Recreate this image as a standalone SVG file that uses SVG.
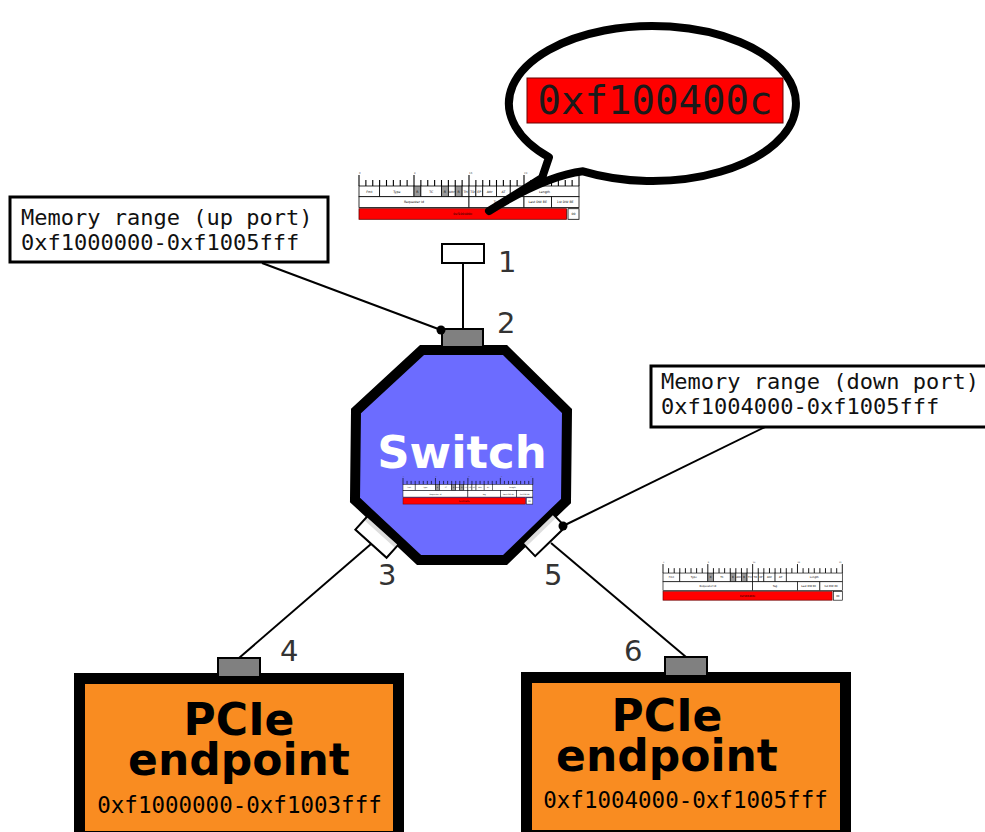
<svg xmlns="http://www.w3.org/2000/svg" xmlns:xlink="http://www.w3.org/1999/xlink" width="985" height="832" viewBox="0 0 985 832">
  <style>
    .mono { font-family: "DejaVu Sans Mono", "Liberation Mono", monospace; }
    .sans { font-family: "DejaVu Sans", "Liberation Sans", sans-serif; }
    .num { font-family: "DejaVu Sans", "Liberation Sans", sans-serif; font-size: 29px; fill: #333; }
    .note { fill: #fff; stroke: #000; stroke-width: 3; }
    .notetext { font-family: "DejaVu Sans Mono", "Liberation Mono", monospace; font-size: 22px; fill: #111; }
    .port { fill: #808080; stroke: #000; stroke-width: 2; }
    .wport { fill: #fff; stroke: #000; stroke-width: 2; }
    .wire { stroke: #000; stroke-width: 2; fill: none; }
    .ep { fill: #f98c21; stroke: #000; stroke-width: 11; }
    .eptitle { font-family: "DejaVu Sans", "Liberation Sans", sans-serif; font-weight: bold; font-size: 44px; fill: #000; text-anchor: middle; }
    .eprange { font-family: "DejaVu Sans Mono", "Liberation Mono", monospace; font-size: 22.5px; fill: #000; text-anchor: middle; }
    .cell { fill: #fff; stroke: #000; stroke-width: 0.8; }
    .rsv { fill: #999; stroke: #000; stroke-width: 0.8; }
    .ft { font-family: "DejaVu Sans", "Liberation Sans", sans-serif; font-size: 3.2px; fill: #000; text-anchor: middle; }
    .bit { font-family: "DejaVu Sans", "Liberation Sans", sans-serif; font-size: 2.6px; fill: #555; }
  </style>
  <defs>
    <marker id="dot" viewBox="-5 -5 10 10" markerWidth="10" markerHeight="10" markerUnits="userSpaceOnUse" refX="0" refY="0">
      <circle r="4.5" fill="#000"/>
    </marker>
    <!-- TLP memory request header, 32 bits wide (6.875 px per bit) -->
    <g id="tlp">
      <path d="M0,5V16 M6.875,10V16 M13.75,10V16 M20.625,10V16 M27.5,10V16 M34.375,10V16 M41.25,10V16 M48.125,10V16 M55,5V16 M61.875,10V16 M68.75,10V16 M75.625,10V16 M82.5,10V16 M89.375,10V16 M96.25,10V16 M103.125,10V16 M110,5V16 M116.875,10V16 M123.75,10V16 M130.625,10V16 M137.5,10V16 M144.375,10V16 M151.25,10V16 M158.125,10V16 M165,5V16 M171.875,10V16 M178.75,10V16 M185.625,10V16 M192.5,10V16 M199.375,10V16 M206.25,10V16 M213.125,10V16 M220,5V16" stroke="#000" stroke-width="1.1" fill="none"/>
      <text class="bit" x="0" y="3.5">0</text>
      <text class="bit" x="55" y="3.5">8</text>
      <text class="bit" x="110" y="3.5">16</text>
      <text class="bit" x="165" y="3.5">24</text>
      <text class="bit" x="216" y="3.5">31</text>
      <!-- row 1 -->
      <rect class="cell" x="0" y="16" width="20.625" height="10.7"/>
      <rect class="cell" x="20.625" y="16" width="34.375" height="10.7"/>
      <rect class="rsv" x="55" y="16" width="6.875" height="10.7"/>
      <rect class="cell" x="61.875" y="16" width="20.625" height="10.7"/>
      <rect class="rsv" x="82.5" y="16" width="6.875" height="10.7"/>
      <rect class="cell" x="89.375" y="16" width="6.875" height="10.7"/>
      <rect class="rsv" x="96.25" y="16" width="6.875" height="10.7"/>
      <rect class="cell" x="103.125" y="16" width="6.875" height="10.7"/>
      <rect class="cell" x="110" y="16" width="6.875" height="10.7"/>
      <rect class="cell" x="116.875" y="16" width="6.875" height="10.7"/>
      <rect class="cell" x="123.75" y="16" width="13.75" height="10.7"/>
      <rect class="cell" x="137.5" y="16" width="13.75" height="10.7"/>
      <rect class="cell" x="151.25" y="16" width="68.75" height="10.7"/>
      <text class="ft" x="10.3" y="22.5">Fmt</text>
      <text class="ft" x="37.8" y="22.5">Type</text>
      <text class="ft" x="58.4" y="22.5">R</text>
      <text class="ft" x="72.2" y="22.5">TC</text>
      <text class="ft" x="85.9" y="22.5">R</text>
      <text class="ft" x="92.8" y="22.5" font-size="2.2">Attr</text>
      <text class="ft" x="99.7" y="22.5">R</text>
      <text class="ft" x="106.6" y="22.5">TH</text>
      <text class="ft" x="113.4" y="22.5">TD</text>
      <text class="ft" x="120.3" y="22.5">EP</text>
      <text class="ft" x="130.6" y="22.5">Attr</text>
      <text class="ft" x="144.4" y="22.5">AT</text>
      <text class="ft" x="185.6" y="22.5">Length</text>
      <!-- row 2 -->
      <rect class="cell" x="0" y="26.7" width="110" height="10.7"/>
      <rect class="cell" x="110" y="26.7" width="55" height="10.7"/>
      <rect class="cell" x="165" y="26.7" width="27.5" height="10.7"/>
      <rect class="cell" x="192.5" y="26.7" width="27.5" height="10.7"/>
      <text class="ft" x="55" y="33.2">Requester Id</text>
      <text class="ft" x="137.5" y="33.2">Tag</text>
      <text class="ft" x="178.75" y="33.2" font-size="2.6">Last DW BE</text>
      <text class="ft" x="206.25" y="33.2" font-size="2.6">1st DW BE</text>
      <!-- row 3 -->
      <rect x="0" y="38.7" width="207.5" height="10.6" fill="#ff0000" stroke="#600" stroke-width="0.8"/>
      <rect class="cell" x="209" y="38.7" width="11" height="10.6"/>
      <text class="ft" x="103.75" y="45.1" fill="#400">0xf100400c</text>
      <text class="ft" x="214.5" y="45.1">00</text>
    </g>
  </defs>

  <!-- packet on the upstream link -->
  <use xlink:href="#tlp" href="#tlp" transform="translate(359,170)"/>

  <!-- address call-out -->
  <g id="bubble">
    <path d="M549,157.2 A143.5,77.5 0 1 1 583,171.3 Q545,176 489,211 L542,178 Z" fill="#fff" stroke="#000" stroke-width="8" stroke-linejoin="round"/>
    <rect x="527" y="78" width="256" height="45" fill="#ff0000" stroke="#6b0000" stroke-width="1"/>
    <text class="mono" x="655" y="114" font-size="39" fill="#1a1a1a" text-anchor="middle">0xf100400c</text>
  </g>

  <!-- address range notes -->
  <g id="note-up">
    <rect class="note" x="10" y="197" width="318" height="65"/>
    <text class="notetext" x="21" y="225">Memory range (up port)</text>
    <text class="notetext" x="21" y="250">0xf1000000-0xf1005fff</text>
  </g>
  <g id="note-down">
    <rect class="note" x="651" y="366" width="345" height="61"/>
    <text class="notetext" x="661" y="389">Memory range (down port)</text>
    <text class="notetext" x="661" y="414">0xf1004000-0xf1005fff</text>
  </g>

  <!-- switch -->
  <g id="switch">
    <path d="M422,350 L505,350 L567,411 L566,501 L505,560 L419,560 L355,500 L356,411 Z" fill="#6c6cff" stroke="#000" stroke-width="10"/>
    <text class="sans" x="462" y="468" font-size="45" font-weight="bold" fill="#fff" text-anchor="middle">Switch</text>
    <use xlink:href="#tlp" href="#tlp" transform="translate(403,475) scale(0.59)"/>
  </g>

  <!-- packet on the downstream link -->
  <use xlink:href="#tlp" href="#tlp" transform="translate(663,560) scale(0.815)"/>

  <!-- ports -->
  <g id="port1">
    <rect class="wport" x="442" y="244" width="42" height="19"/>
    <text class="num" x="498" y="272">1</text>
  </g>
  <g id="port2">
    <rect class="port" x="442" y="329" width="41" height="18"/>
    <text class="num" x="497" y="333">2</text>
  </g>
  <g id="port3">
    <g transform="translate(377,537) rotate(42)">
      <rect x="-21" y="-9" width="42" height="18" fill="#fff"/>
      <rect x="-21" y="-9" width="42" height="5" fill="#ddd"/>
      <rect x="-21" y="-9" width="42" height="18" fill="none" stroke="#000" stroke-width="2"/>
    </g>
    <text class="num" x="378" y="585">3</text>
  </g>
  <g id="port5">
    <g transform="translate(544,535) rotate(-44)">
      <rect x="-21" y="-9" width="42" height="18" fill="#fff"/>
      <rect x="-21" y="-9" width="42" height="5" fill="#ddd"/>
      <rect x="-21" y="-9" width="42" height="18" fill="none" stroke="#000" stroke-width="2"/>
    </g>
    <text class="num" x="544" y="585">5</text>
  </g>

  <!-- endpoints -->
  <g id="endpoint-a">
    <rect class="ep" x="79.5" y="678.5" width="319" height="158"/>
    <text class="eptitle" x="239" y="735">PCIe</text>
    <text class="eptitle" x="239" y="775">endpoint</text>
    <text class="eprange" x="239.5" y="813">0xf1000000-0xf1003fff</text>
  </g>
  <g id="endpoint-b">
    <rect class="ep" x="526.5" y="677.5" width="319" height="158"/>
    <text class="eptitle" x="667" y="731">PCIe</text>
    <text class="eptitle" x="667" y="771">endpoint</text>
    <text class="eprange" x="685.5" y="808">0xf1004000-0xf1005fff</text>
  </g>
  <g id="port4">
    <rect class="port" x="218" y="658" width="42" height="19"/>
    <text class="num" x="280" y="661">4</text>
  </g>
  <g id="port6">
    <rect class="port" x="665" y="657" width="42" height="19"/>
    <text class="num" x="624" y="661">6</text>
  </g>

  <!-- links and note leaders -->
  <g id="connectors">
    <line class="wire" x1="463" y1="263" x2="463" y2="329"/>
    <line class="wire" x1="371" y1="544" x2="239" y2="658"/>
    <line class="wire" x1="551" y1="543" x2="686" y2="657"/>
    <line class="wire" x1="262" y1="263" x2="441" y2="330" marker-end="url(#dot)"/>
    <line class="wire" x1="765" y1="427" x2="563" y2="526" marker-end="url(#dot)"/>
  </g>
</svg>
